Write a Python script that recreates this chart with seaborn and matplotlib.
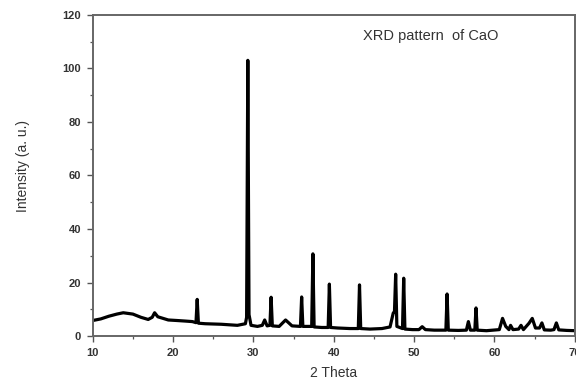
"""XRD pattern of CaO - redrawn from the reference figure."""

import pandas as pd
import matplotlib
matplotlib.use("Agg")
import matplotlib.pyplot as plt
from matplotlib.ticker import MultipleLocator
import seaborn as sns

# ============================================================================
# DATA (2-theta in degrees, intensity in a.u.)
# ============================================================================
two_theta = [
    10.0, 11.0, 12.0, 13.0, 13.8, 15.0, 16.0, 16.9, 17.4, 17.7, 18.1, 19.4,
    20.5, 21.5, 22.4, 22.85, 23.0, 23.15, 24.0, 25.0, 26.0, 27.0, 28.0, 29.0,
    29.15, 29.3, 29.45, 29.7, 30.5, 31.1, 31.4, 31.7, 32.05, 32.2, 32.35,
    33.2, 34.0, 34.8, 35.85, 36.0, 36.15, 37.25, 37.4, 37.55, 38.5, 39.3,
    39.45, 39.6, 40.5, 42.0, 43.05, 43.2, 43.35, 44.5, 46.0, 47.0, 47.4,
    47.55, 47.7, 47.85, 48.55, 48.7, 48.85, 49.8, 50.6, 51.0, 51.4, 52.5,
    53.95, 54.1, 54.25, 55.5, 56.5, 56.75, 57.0, 57.55, 57.7, 57.85, 59.0,
    60.6, 61.0, 61.4, 61.8, 62.0, 62.3, 63.0, 63.3, 63.6, 64.3, 64.7, 65.1,
    65.6, 65.9, 66.2, 67.0, 67.4, 67.7, 68.0, 69.0, 70.0,
]
intensity = [
    5.8, 6.4, 7.4, 8.2, 8.7, 8.2, 7.0, 6.2, 7.0, 8.7, 7.2, 6.0,
    5.8, 5.6, 5.4, 5.0, 13.7, 4.8, 4.6, 4.5, 4.4, 4.2, 4.0, 4.6,
    7.0, 103.0, 8.0, 4.0, 3.6, 4.0, 6.0, 3.8, 4.0, 14.5, 3.8,
    3.6, 6.0, 3.8, 3.6, 14.6, 3.6, 3.6, 30.7, 3.4, 3.2, 3.2,
    19.4, 3.2, 3.0, 2.8, 2.8, 19.1, 2.8, 2.6, 2.8, 3.4, 8.6,
    9.0, 23.1, 3.6, 2.8, 21.6, 2.6, 2.4, 2.4, 3.5, 2.4, 2.2,
    2.2, 15.7, 2.2, 2.1, 2.2, 5.4, 2.2, 2.2, 10.5, 2.2, 2.0,
    2.4, 6.6, 3.6, 2.4, 4.0, 2.4, 2.6, 4.0, 2.4, 4.8, 6.6, 3.0,
    3.0, 4.9, 2.3, 2.2, 2.4, 4.9, 2.3, 2.1, 2.0,
]

x_ticks = [10, 20, 30, 40, 50, 60, 70]
y_ticks = [0, 20, 40, 60, 80, 100, 120]

TITLE_TEXT = "XRD pattern  of CaO"
X_LABEL = "2 Theta"
Y_LABEL = "Intensity (a. u.)"

# ============================================================================
# PLOT
# ============================================================================
sns.set_theme(style="ticks")
plt.rcParams["font.family"] = ["Liberation Sans", "DejaVu Sans"]

df = pd.DataFrame({"two_theta": two_theta, "intensity": intensity})

fig = plt.figure(figsize=(5.76, 3.81), dpi=100)
ax = fig.add_axes([0.161, 0.118, 0.837, 0.843])

sns.lineplot(data=df, x="two_theta", y="intensity", estimator=None,
             color="black", linewidth=2.3, ax=ax)

ax.set_xlim(10, 70)
ax.set_ylim(0, 120)
ax.set_xticks(x_ticks)
ax.set_yticks(y_ticks)
ax.xaxis.set_minor_locator(MultipleLocator(5))
ax.yaxis.set_minor_locator(MultipleLocator(10))

ax.tick_params(which="major", direction="out", length=4.5, width=1.0,
               color="#555555", labelsize=8, labelcolor="#333333", pad=4)
ax.tick_params(which="minor", direction="out", length=2.5, width=0.9,
               color="#555555")
for lbl in ax.get_xticklabels() + ax.get_yticklabels():
    lbl.set_fontweight("bold")

for side in ["left", "bottom", "top", "right"]:
    ax.spines[side].set_visible(True)
    ax.spines[side].set_color("#666666")
    ax.spines[side].set_linewidth(1.4)

ax.set_xlabel(X_LABEL, fontsize=10, color="#333333", va="center")
ax.set_ylabel(Y_LABEL, fontsize=10, color="#333333", va="center")
ax.xaxis.set_label_coords(0.5, -0.115)
ax.yaxis.set_label_coords(-0.145, 0.53)

ax.text(52.0, 112.0, TITLE_TEXT, fontsize=10.5, color="#333333",
        ha="center", va="center")

fig.savefig("out.png", dpi=100)
plt.close(fig)
